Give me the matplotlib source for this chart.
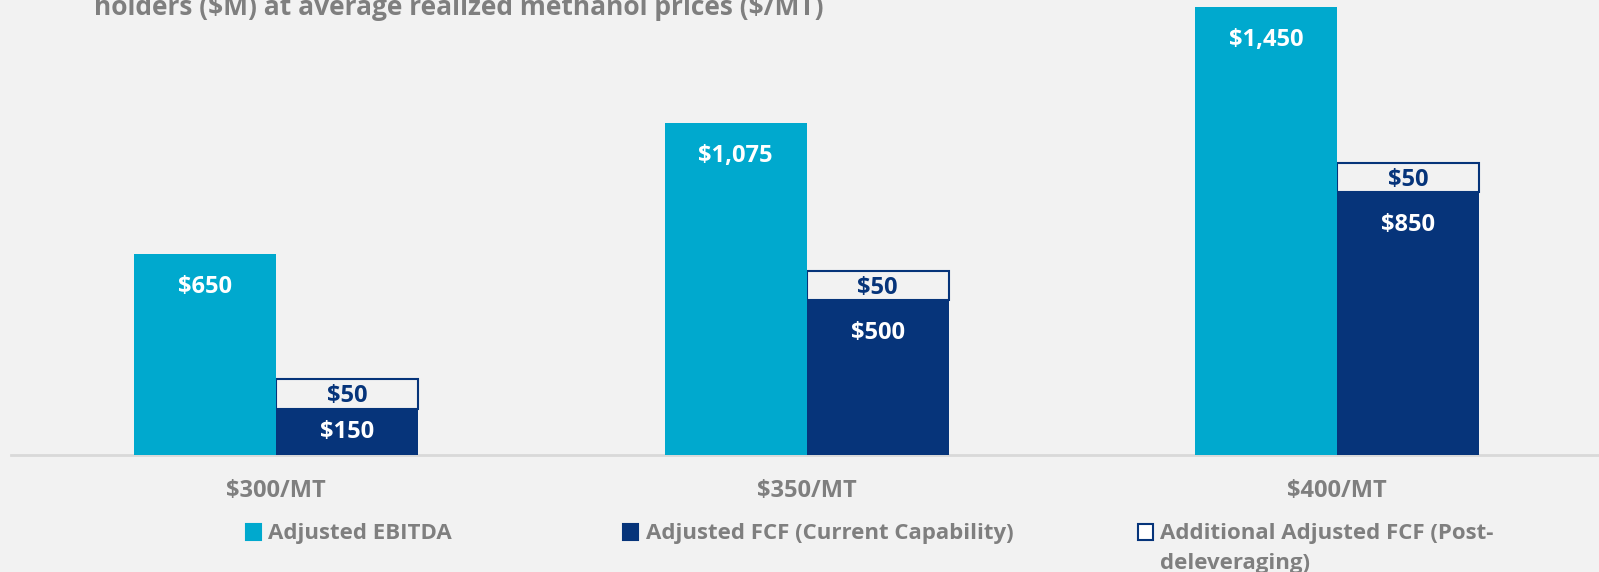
import matplotlib
matplotlib.use("Agg")
import matplotlib.pyplot as plt
from matplotlib.patches import Rectangle
import numpy as np

# Data ($M)
categories = ["$300/MT", "$350/MT", "$400/MT"]
ebitda = [650, 1075, 1450]
fcf_current = [150, 500, 850]
fcf_post = [50, 50, 50]
# the $50 boxes are not drawn to scale in the original, height as it appears
fcf_post_drawn = [95, 95, 95]

legend_labels = ["Adjusted EBITDA", "Adjusted FCF (Current Capability)",
                 "Additional Adjusted FCF (Post-\ndeleveraging)"]
title = "holders ($M) at average realized methanol prices ($/MT)"

# Colours
bg = "#f2f2f2"
cyan = "#00a9ce"
navy = "#06347a"
grey = "#7f7f7f"

plt.rcParams['font.family'] = ['Open Sans', 'DejaVu Sans']
plt.rcParams['font.weight'] = 'bold'
plt.rcParams['text.parse_math'] = False

W, H = 1599, 572
fig = plt.figure(figsize=(W / 100, H / 100), dpi=100, facecolor=bg)
ax = fig.add_axes([11 / W, (H - 455) / H, (W - 11) / W, 455 / H])
ax.set_facecolor(bg)

x = np.arange(len(categories))
w = 0.2677

b1 = ax.bar(x - w / 2, ebitda, w, color=cyan, zorder=3)
b2 = ax.bar(x + w / 2, fcf_current, w, color=navy, zorder=3)
b3 = ax.bar(x + w / 2, fcf_post_drawn, w, bottom=fcf_current, facecolor=bg,
            edgecolor=navy, linewidth=1.5, zorder=2)

ax.set_xlim(-0.5, 2.494)
ax.set_ylim(0, 1472)

# value labels, a fixed distance under the bar top (centred when the bar is short)
px_per_unit = 455 / 1472
for xi, v in zip(x, ebitda):
    off = min(33, v * px_per_unit / 2)
    ax.annotate(f"${v:,}", (xi - w / 2, v), xytext=(0, -off), textcoords='offset pixels',
                ha='center', va='center', color='white', fontsize=17, fontweight='bold', zorder=4)
for xi, v in zip(x, fcf_current):
    off = min(33, v * px_per_unit / 2)
    ax.annotate(f"${v:,}", (xi + w / 2, v), xytext=(0, -off), textcoords='offset pixels',
                ha='center', va='center', color='white', fontsize=17, fontweight='bold', zorder=4)
for xi, v, b, d in zip(x, fcf_post, fcf_current, fcf_post_drawn):
    ax.annotate(f"${v:,}", (xi + w / 2, b + d / 2), xytext=(0, -2), textcoords='offset pixels',
                ha='center', va='center', color=navy, fontsize=17, fontweight='bold', zorder=4)

# axis styling
for s in ['top', 'right', 'left']:
    ax.spines[s].set_visible(False)
ax.spines['bottom'].set_color('#d9d9d9')
ax.spines['bottom'].set_linewidth(2)
ax.spines['bottom'].set_zorder(1)
ax.set_yticks([])
ax.set_xticks(x)
ax.set_xticklabels(categories, fontsize=17, fontweight='bold', color=grey)
ax.tick_params(axis='x', length=0, pad=17)

# title (cut off at the top in the source)
fig.text(94 / W, 1 - 15 / H, title, ha='left', va='baseline', fontsize=19,
         fontweight='bold', color=grey)

# legend drawn by hand to keep the odd wrapping
leg_items = [(246, 268, dict(facecolor=cyan, edgecolor=cyan)),
             (623, 646, dict(facecolor=navy, edgecolor=navy)),
             (1138, 1160, dict(facecolor='white', edgecolor=navy))]
for (sx, tx, style), lab in zip(leg_items, legend_labels):
    fig.patches.append(Rectangle((sx / W, 1 - 540 / H), 15 / W, 16 / H,
                                 transform=fig.transFigure, linewidth=1.5, **style))
    for i, line in enumerate(lab.split("\n")):
        fig.text(tx / W, 1 - (533 + 31 * i) / H, line, ha='left', va='center',
                 fontsize=16, fontweight='bold', color=grey)

fig.savefig("out.png", dpi=100, facecolor=bg)
